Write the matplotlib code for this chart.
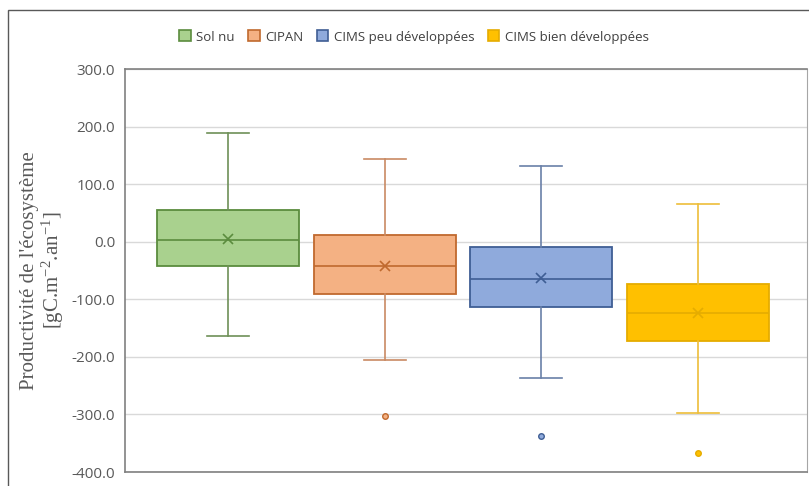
import matplotlib
matplotlib.use("Agg")
import matplotlib.pyplot as plt
from matplotlib.patches import Patch, Rectangle

plt.rcParams["mathtext.fontset"] = "custom"
plt.rcParams["mathtext.rm"] = "Liberation Serif"
plt.rcParams["mathtext.it"] = "Liberation Serif:italic"

# valeurs
categories = ["Sol nu", "CIPAN", "CIMS peu développées", "CIMS bien développées"]
q1 = [-43, -91, -114, -172]
medianes = [3, -43, -64, -124]
q3 = [55, 11, -9, -73]
moyennes = [4, -42, -63, -123]
whis_bas = [-164, -206, -237, -298]
whis_haut = [189, 143, 131, 65]
outliers = [[], [-303], [-337], [-367]]

fill_colors = ["#A9D18E", "#F4B183", "#8FAADC", "#FFC000"]
edge_colors = ["#5B8C3E", "#C0692E", "#3F5E94", "#E5AC00"]
whisk_colors = ["#6E9058", "#C98A63", "#6A80A8", "#EDBE3A"]

fig = plt.figure(figsize=(8.09, 4.86), dpi=100)
ax = fig.add_axes([125 / 809, 1 - 472 / 486, 682 / 809, 403 / 486])

for i in range(4):
    s = dict(label=categories[i], q1=q1[i], med=medianes[i], q3=q3[i],
             mean=moyennes[i], whislo=whis_bas[i], whishi=whis_haut[i],
             fliers=outliers[i])
    ec = edge_colors[i]
    ax.bxp([s], positions=[i + 1], widths=0.905, patch_artist=True,
           showmeans=True, meanline=False,
           boxprops=dict(facecolor=fill_colors[i], edgecolor=ec, linewidth=1.3),
           medianprops=dict(color=ec, linewidth=1.2),
           whiskerprops=dict(color=whisk_colors[i], linewidth=1.2),
           capprops=dict(color=whisk_colors[i], linewidth=1.2),
           capwidths=0.27,
           meanprops=dict(marker="x", markeredgecolor=ec, markersize=7, markeredgewidth=1.2),
           flierprops=dict(marker="o", markerfacecolor=fill_colors[i], markeredgecolor=ec,
                           markersize=4, markeredgewidth=1.0),
           zorder=3)

ax.set_xlim(1 - 103 / 156.7, 4 + 109 / 156.7)
ax.set_ylim(-400, 300)
ax.set_yticks(range(-400, 301, 100))
ax.set_yticklabels([f"{v:.1f}" for v in range(-400, 301, 100)])
ax.set_xticks([])
ax.yaxis.grid(True, color="#D9D9D9", linewidth=1.0, zorder=0)
ax.set_axisbelow(True)
for side in ["left", "bottom", "top"]:
    ax.spines[side].set_color("#808080")
    ax.spines[side].set_linewidth(1.2)
ax.spines["right"].set_color("#A6A6A6")
ax.tick_params(axis="y", length=0, pad=7, labelsize=11, labelcolor="#595959")
for lab in ax.get_yticklabels():
    lab.set_family("Open Sans")

ax.set_ylabel("Productivité de l'écosystème\n[gC.m$^{-2}$.an$^{-1}$]",
              family="Liberation Serif", fontsize=15, color="#595959", labelpad=4,
              linespacing=1.05)

handles = [Patch(facecolor=fill_colors[i], edgecolor=edge_colors[i], linewidth=1.2)
           for i in range(4)]
fig.legend(handles, categories, loc="center", bbox_to_anchor=(414 / 809, 1 - 37 / 486),
           ncol=4, frameon=False, handlelength=0.9, handleheight=0.9,
           handletextpad=0.4, columnspacing=1.0,
           prop=dict(family="Open Sans", size=9.5), labelcolor="#404040")

# bordure de la zone du graphique
fig.add_artist(Rectangle((8 / 809, -0.1), 1.0, 1 - 10 / 486 + 0.1, transform=fig.transFigure,
                         fill=False, edgecolor="#595959", linewidth=1.0))

fig.savefig("out.png", dpi=100)
